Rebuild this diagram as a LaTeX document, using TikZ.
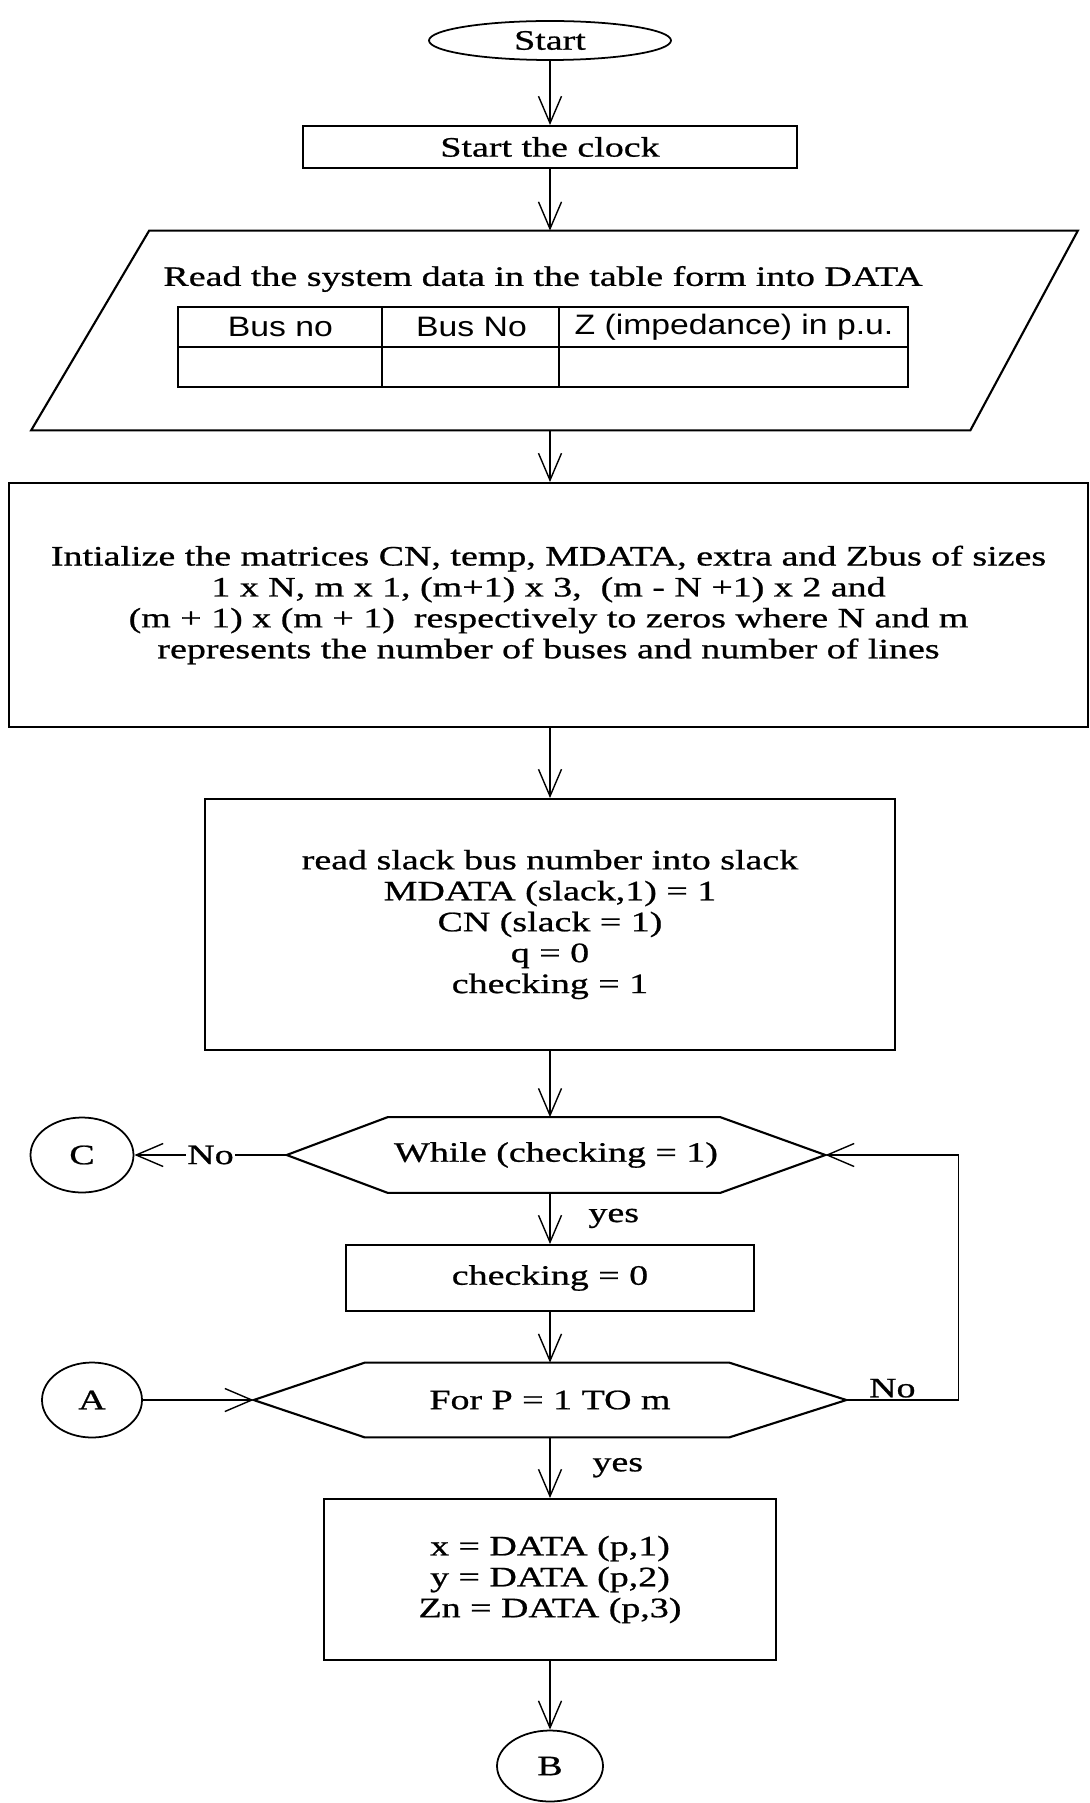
\documentclass[tikz,border=0pt]{standalone}
\usepackage{fontspec}
\setmainfont{Liberation Serif}[FakeStretch=1.35, FakeBold=0.8]
\setsansfont{Liberation Sans}[FakeStretch=1.2]
\usepackage{tikz}
\usetikzlibrary{arrows.meta,shapes.geometric}
\newcommand{\chartfont}{\fontsize{16}{17.6}\selectfont}
\tikzset{
  terminal/.style={draw, ellipse, line width=1pt, inner sep=0pt, font=\chartfont},
  connector/.style={draw, ellipse, line width=1pt, inner sep=0pt, minimum width=2.06cm, minimum height=1.5cm, font=\chartfont},
  process/.style={draw, line width=1.1pt, inner sep=0pt, align=center, font=\chartfont},
  loopbox/.style={inner sep=0pt, minimum height=1.5cm, font=\chartfont},
  outline/.style={line width=1.2pt},
  cellhead/.style={font=\sffamily\chartfont},
  flowtext/.style={font=\chartfont, inner sep=0pt},
  flowlabel/.style={font=\chartfont, inner sep=1pt},
  flow/.style={-{Straight Barb[length=5.4mm, width=4.6mm]}, line width=0.8pt}
}

\begin{document}
\begin{tikzpicture}[x=1cm,y=1cm]
  \useasboundingbox (0,0) rectangle (21.8,-36.06);

  \node[terminal, minimum width=4.84cm, minimum height=0.78cm] (start) at (11.0,-0.81) {Start};
  \node[process, minimum width=9.88cm, minimum height=0.84cm] (clock) at (11.0,-2.94) {Start the clock};

  % read data (parallelogram with the bus table)
  \node[inner sep=0pt, minimum width=20.92cm, minimum height=3.98cm] (read) at (11.09,-6.61) {};
  \draw[outline] (read.south west) -- ([xshift=2.36cm]read.north west) -- (read.north east)
    -- ([xshift=-2.15cm]read.south east) -- cycle;
  \node[flowtext] (readtxt) at (10.86,-5.58) {Read the system data in the table form into DATA};
  \node[draw, line width=1pt, inner sep=0pt, minimum width=14.6cm, minimum height=1.6cm] (bustable) at (10.86,-6.94) {};
  \draw[line width=1pt] (bustable.west) -- (bustable.east);
  \foreach \c in {4.1,7.64}
    \draw[line width=1pt] ([xshift=\c cm]bustable.north west) -- ([xshift=\c cm]bustable.south west);
  \node[cellhead] (busfrom) at (5.61,-6.54) {Bus no};
  \node[cellhead] (busto) at (9.43,-6.54) {Bus No};
  \node[cellhead] (zpu) at (14.68,-6.54) {Z (impedance) in p.u.};

  \node[process, minimum width=21.58cm, minimum height=4.88cm] (init) at (10.97,-12.1)
    {Intialize the matrices CN, temp, MDATA, extra and Zbus of sizes\\
     1 x N, m x 1, (m+1) x 3,\ \ (m - N +1) x 2 and\\
     (m + 1) x (m + 1)\ \ respectively to zeros where N and m\\
     represents the number of buses and number of lines};

  \node[process, minimum width=13.8cm, minimum height=5.02cm] (slack) at (11.0,-18.49)
    {read slack bus number into slack\\
     MDATA (slack,1) = 1\\
     CN (slack = 1)\\
     q = 0\\
     checking = 1};

  \node[loopbox, minimum width=10.76cm] (while) at (11.12,-23.1) {While (checking = 1)};
  \node[connector] (conc) at (1.64,-23.1) {C};
  \node[process, minimum width=8.16cm, minimum height=1.32cm] (checking) at (11.0,-25.56) {checking = 0};
  \node[loopbox, minimum width=11.84cm, minimum height=1.48cm] (forp) at (11.0,-28.0) {For P = 1 TO m};
  \node[connector, minimum width=2.0cm] (cona) at (1.84,-28.0) {A};

  \node[process, minimum width=9.04cm, minimum height=3.22cm] (data) at (11.0,-31.59)
    {x = DATA (p,1)\\
     y = DATA (p,2)\\
     Zn = DATA (p,3)};
  \node[connector, minimum width=2.12cm, minimum height=1.42cm] (conb) at (11.0,-35.32) {B};

  % hexagon outlines
  \foreach \n/\l/\r in {while/2.02/2.1, forp/2.22/2.34}
    \draw[outline] (\n.west) -- ([xshift=\l cm]\n.north west) -- ([xshift=-\r cm]\n.north east)
      -- (\n.east) -- ([xshift=-\r cm]\n.south east) -- ([xshift=\l cm]\n.south west) -- cycle;

  % connectors
  \draw[flow] (start.south) -- (clock.north);
  \draw[flow] (clock.south) -- (clock.south |- read.north);
  \draw[flow] (clock.south |- read.south) -- (clock.south |- init.north);
  \draw[flow] (slack.north |- init.south) -- (slack.north);
  \draw[flow] (slack.south) -- (slack.south |- while.north);
  \draw[flow] (checking.north |- while.south) -- node[flowlabel, right, xshift=0.72cm] (yeswhile) {yes} (checking.north);
  \draw[flow] (checking.south) -- (forp.north);
  \draw[flow] (forp.south) -- node[flowlabel, right, xshift=0.8cm] (yesfor) {yes} (data.north);
  \draw[flow] (data.south) -- (conb.north);
  \draw[flow] (while.west) -- node[flowlabel, fill=white] (nowhile) {No} (conc.east);
  \draw[flow] (cona.east) -- (forp.west);
  \draw[flow] (forp.east) -- node[flowlabel, above, xshift=-0.2cm] (nofor) {No} ++(2.24,0) |- (while.east);
\end{tikzpicture}
\end{document}
